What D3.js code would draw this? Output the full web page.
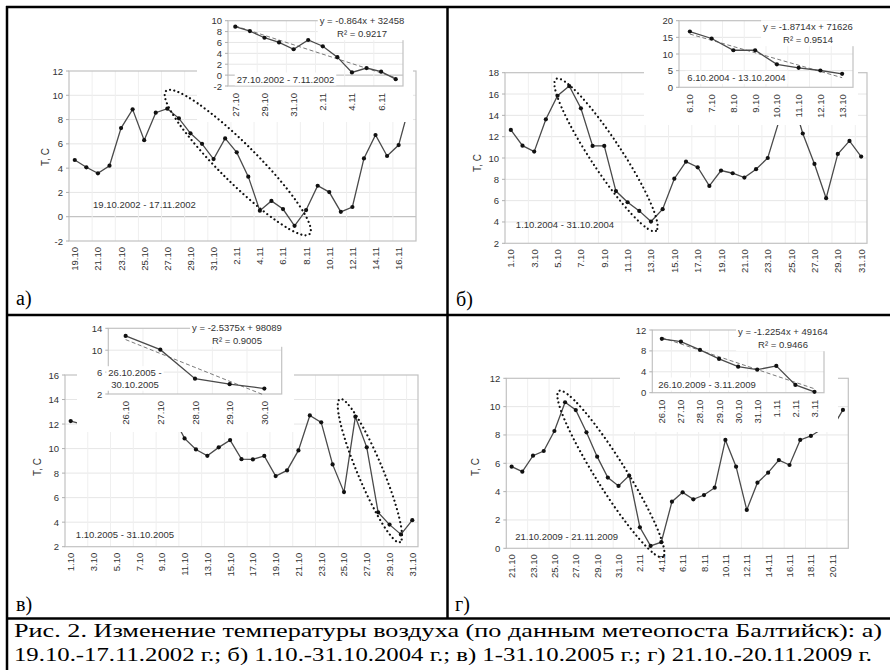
<!DOCTYPE html>
<html><head><meta charset="utf-8">
<script src="https://cdn.jsdelivr.net/npm/d3@7"></script>
<style>
body{margin:0;background:#fff}
svg{display:block}
.ax text,.lbl{font-family:"Liberation Sans",Arial,sans-serif;fill:#333}
.serif{font-family:"Times New Roman","Liberation Serif",Tinos,serif;fill:#000}
</style>
</head><body>
<svg id="fig" width="890" height="670"></svg>
<script>
// ---- categories (days) ----
const daysA = ["19.10","20.10","21.10","22.10","23.10","24.10","25.10","26.10","27.10","28.10","29.10","30.10","31.10",
  "1.11","2.11","3.11","4.11","5.11","6.11","7.11","8.11","9.11","10.11","11.11","12.11","13.11","14.11","15.11","16.11","17.11"];
const daysB = ["1.10","2.10","3.10","4.10","5.10","6.10","7.10","8.10","9.10","10.10","11.10","12.10","13.10","14.10","15.10",
  "16.10","17.10","18.10","19.10","20.10","21.10","22.10","23.10","24.10","25.10","26.10","27.10","28.10","29.10","30.10","31.10"];
const daysC = daysB.slice();
const daysD = ["21.10","22.10","23.10","24.10","25.10","26.10","27.10","28.10","29.10","30.10","31.10",
  "1.11","2.11","3.11","4.11","5.11","6.11","7.11","8.11","9.11","10.11","11.11","12.11","13.11","14.11","15.11",
  "16.11","17.11","18.11","19.11","20.11","21.11"];

// ---- daily mean air temperature, °C ----
const tempA = [4.67,4.07,3.57,4.2,7.3,8.84,6.3,8.57,8.9,8.1,6.87,6.0,4.75,6.45,5.3,3.3,0.5,1.3,0.63,-0.75,
  0.55,2.55,2.03,0.4,0.8,4.8,6.73,5.0,5.9,9.4];
const tempB = [12.63,11.16,10.6,13.63,15.84,16.75,14.66,11.13,11.13,6.9,5.85,5.04,4.04,5.2,8.06,9.66,9.13,7.38,
  8.82,8.57,8.16,8.95,10.0,13.6,16.0,12.3,9.44,6.23,10.38,11.6,10.13];
const tempC = [12.24,12.0,null,null,null,null,null,null,null,12.6,10.83,9.93,9.41,10.1,10.69,9.14,9.12,9.4,
  7.76,8.22,9.85,12.7,12.14,8.71,6.45,12.6,10.1,4.8,3.8,3.0,4.16];
const tempD = [5.76,5.41,6.54,6.87,8.28,10.31,9.76,8.19,6.47,4.99,4.4,5.13,1.48,0.17,0.43,3.29,3.95,3.46,3.76,
  4.28,7.65,5.76,2.71,4.63,5.34,6.23,5.88,7.65,7.93,8.4,8.5,9.77];

// ---- axis ticks ----
const yTicksA = [-2,0,2,4,6,8,10,12],  yTicksAi = [-2,0,2,4,6,8,10];
const yTicksB = [2,4,6,8,10,12,14,16,18], yTicksBi = [0,5,10,15,20];
const yTicksC = [2,4,6,8,10,12,14,16], yTicksCi = [2,6,10,14];
const yTicksD = [0,2,4,6,8,10,12], yTicksDi = [0,4,8,12];

// ---- linear trends of the cooling spells ----
const slopes = [-0.864,-1.8714,-2.5375,-1.2254];
const intercepts = [32458,71626,98089,49164];
const r2 = [0.9217,0.9514,0.9005,0.9466];

const periods = ["19.10.2002 - 17.11.2002","1.10.2004 - 31.10.2004","1.10.2005 - 31.10.2005","21.10.2009 - 21.11.2009"];
const spells = [["27.10.2002 - 7.11.2002"],["6.10.2004 - 13.10.2004"],["26.10.2005 -","30.10.2005"],["26.10.2009 - 3.11.2009"]];

const captionLines = [
  "Рис. 2. Изменение температуры воздуха (по данным метеопоста Балтийск): а)",
  "19.10.-17.11.2002 г.; б) 1.10.-31.10.2004 г.; в) 1-31.10.2005 г.; г) 21.10.-20.11.2009 г."
];

const svg = d3.select("#fig");
svg.append("rect").attr("width",890).attr("height",670).attr("fill","#fff");

const panels = [
  {cats:daysA, vals:tempA, dom:[-2,12], ticks:yTicksA, box:[69,416,71,241], title:[45,157],
   period:[144.5,204], cover:[197,9,413,122], tag:"а)", tagPos:[16,305],
   inset:{from:8,to:19,dom:[-2,10],ticks:yTicksAi,every:2,box:[228,403,20.7,86],eq:[362,20.7],spell:[285.5,79]},
   ell:{a:[7.88,10.35],b:[20.3,-1.43],r:19}},
  {cats:daysB, vals:tempB, dom:[2,18], ticks:yTicksB, box:[505,867,72.7,243.3], title:[477,163],
   period:[565,224], cover:[644,9,858,125], tag:"б)", tagPos:[456,306],
   inset:{from:5,to:12,dom:[0,20],ticks:yTicksBi,every:1,box:[679,853,20.7,87.3],eq:[808,26.7],spell:[736.5,77.3]},
   ell:{a:[3.87,17.41],b:[12.43,3.16],r:15.5}},
  {cats:daysC, vals:tempC, dom:[2,16], ticks:yTicksC, box:[65,418,375,546.7], title:[37,467],
   period:[125,534], cover:[77,317,294,432], tag:"в)", tagPos:[16,611],
   inset:{from:25,to:29,dom:[2,14],ticks:yTicksCi,every:1,box:[108.3,281.7,328.3,394],eq:[237,327.3],spell:[135,372.7]},
   ell:{a:[23.64,14.04],b:[28.91,2.37],r:12.5}},
  {cats:daysD, vals:tempD, dom:[0,12], ticks:yTicksD, box:[506.3,848.3,378.3,548.3], title:[475,467],
   period:[566.7,536], cover:[620,317,838,432], tag:"г)", tagPos:[455,611],
   inset:{from:5,to:13,dom:[0,12],ticks:yTicksDi,every:1,box:[652.3,824,330,392.7],eq:[783,331.7],spell:[707,384]},
   ell:{a:[4.42,11.1],b:[14.15,-0.61],r:15}}
];

// one line chart (main or inset) with a category x axis
function lineChart(g, cats, dom, ticks, box, every, opt) {
  const [x0,x1,y0,y1] = box;
  const x = d3.scalePoint().domain(cats).range([x0,x1]).padding(0.5);
  const y = d3.scaleLinear().domain(dom).range([y1,y0]);
  const step = x.step();
  const ax = g.append("g").attr("class","ax");
  ax.selectAll(".hg").data(ticks.filter(t=>t!==dom[0]&&t!==dom[1])).join("line")
    .attr("x1",x0).attr("x2",x1).attr("y1",d=>y(d)).attr("y2",d=>y(d))
    .attr("stroke",d=>(d===0&&dom[0]<0)?"#b4b4b4":"#e6e6e6").attr("stroke-width",1);
  ax.selectAll(".vg").data(d3.range(every, cats.length, every)).join("line")
    .attr("x1",d=>x0+d*step).attr("x2",d=>x0+d*step).attr("y1",y0).attr("y2",y1)
    .attr("stroke","#efefef").attr("stroke-width",1);
  ax.append("rect").attr("x",x0).attr("y",y0).attr("width",x1-x0).attr("height",y1-y0)
    .attr("fill","none").attr("stroke","#c2c2c2").attr("stroke-width",1.2);
  ax.selectAll(".yt").data(ticks).join("line")
    .attr("x1",x0-3).attr("x2",x0).attr("y1",d=>y(d)).attr("y2",d=>y(d)).attr("stroke","#b0b0b0");
  ax.selectAll(".yl").data(ticks).join("text")
    .attr("x",x0-opt.ygap).attr("y",d=>y(d)).attr("text-anchor","end").attr("dominant-baseline","central")
    .attr("font-size",opt.fs).text(d=>d);
  ax.selectAll(".xl").data(cats.filter((c,i)=>i%every===0)).join("text")
    .attr("transform",d=>`translate(${x(d)},${y1+opt.xgap}) rotate(-90)`)
    .attr("text-anchor","end").attr("dominant-baseline","central")
    .attr("font-size",opt.fs).text(d=>d);
  return {x,y};
}

function drawSeries(g, sc, cats, vals) {
  const pts = cats.map((c,i)=>({c,v:vals[i]}));
  g.append("path").datum(pts)
    .attr("d",d3.line().defined(d=>d.v!==null).x(d=>sc.x(d.c)).y(d=>sc.y(d.v)))
    .attr("fill","none").attr("stroke","#4a4a4a").attr("stroke-width",1.3);
  g.selectAll(null).data(pts.filter(d=>d.v!==null)).join("circle")
    .attr("cx",d=>sc.x(d.c)).attr("cy",d=>sc.y(d.v)).attr("r",2.1).attr("fill","#111");
}

function boxedText(g, lines, cx, cy, fs, lh) {
  const tg = g.append("g");
  const bg = tg.append("rect").attr("fill","#fff");
  lines.forEach((s,k)=>{
    tg.append("text").attr("class","lbl").attr("x",cx).attr("y",cy+k*lh)
      .attr("text-anchor","middle").attr("dominant-baseline","central").attr("font-size",fs).text(s);
  });
  const b = tg.node().getBBox();
  bg.attr("x",b.x-2).attr("y",b.y-1).attr("width",b.width+4).attr("height",b.height+2);
}

panels.forEach((p,k)=>{
  const g = svg.append("g");
  // main chart
  const sc = lineChart(g, p.cats, p.dom, p.ticks, p.box, 2, {fs:9.5, ygap:6, xgap:6});
  drawSeries(g, sc, p.cats, p.vals);
  g.append("text").attr("class","lbl").attr("font-size",10)
    .attr("transform",`translate(${p.title[0]},${p.title[1]}) rotate(-90)`)
    .attr("text-anchor","middle").attr("dominant-baseline","central").text("T, C");
  g.append("text").attr("class","lbl").attr("x",p.period[0]).attr("y",p.period[1])
    .attr("text-anchor","middle").attr("dominant-baseline","central").attr("font-size",9.5).text(periods[k]);

  // inset chart area lies over the main one
  const c = p.cover;
  g.append("rect").attr("x",c[0]).attr("y",c[1]).attr("width",c[2]-c[0]).attr("height",c[3]-c[1]).attr("fill","#fff");
  const I = p.inset;
  const ic = p.cats.slice(I.from, I.to+1), iv = p.vals.slice(I.from, I.to+1);
  const isc = lineChart(g, ic, I.dom, I.ticks, I.box, I.every, {fs:9.5, ygap:6, xgap:7});
  // trend line with the stated slope through the spell's mean
  const idx = d3.range(ic.length);
  const mx = d3.mean(idx), my = d3.mean(iv);
  const tv = i => my + slopes[k]*(i-mx);
  g.append("line")
    .attr("x1",isc.x(ic[0])).attr("y1",isc.y(tv(0)))
    .attr("x2",isc.x(ic[ic.length-1])).attr("y2",isc.y(tv(ic.length-1)))
    .attr("stroke","#7a7a7a").attr("stroke-width",1).attr("stroke-dasharray","4,2.5");
  drawSeries(g, isc, ic, iv);
  boxedText(g, [`y = ${slopes[k]}x + ${intercepts[k]}`, `R² = ${r2[k]}`], I.eq[0], I.eq[1], 9.5, 13);
  boxedText(g, spells[k], I.spell[0], I.spell[1], 9.5, 11.5);

  // dotted outline of the cooling spell
  const xi = d3.scaleLinear().domain([0,p.cats.length-1]).range([sc.x(p.cats[0]), sc.x(p.cats[p.cats.length-1])]);
  const ax_ = xi(p.ell.a[0]), ay_ = sc.y(p.ell.a[1]), bx_ = xi(p.ell.b[0]), by_ = sc.y(p.ell.b[1]);
  const cx = (ax_+bx_)/2, cy = (ay_+by_)/2;
  const rx = Math.hypot(bx_-ax_, by_-ay_)/2;
  const ang = Math.atan2(by_-ay_, bx_-ax_)*180/Math.PI;
  g.append("ellipse").attr("cx",0).attr("cy",0).attr("rx",rx).attr("ry",p.ell.r)
    .attr("transform",`translate(${cx},${cy}) rotate(${ang})`)
    .attr("fill","none").attr("stroke","#111").attr("stroke-width",2.2)
    .attr("stroke-linecap","round").attr("stroke-dasharray","0.01,4.4");

  svg.append("text").attr("class","serif").attr("x",p.tagPos[0]).attr("y",p.tagPos[1])
    .attr("font-size",20).text(p.tag);
});

// frame
const frame = [[6,7,890,7],[7,6,7,670],[447.5,6,447.5,618],[6,315,890,315],[6,618.5,890,618.5]];
svg.selectAll(".fr").data(frame).join("line")
  .attr("x1",d=>d[0]).attr("y1",d=>d[1]).attr("x2",d=>d[2]).attr("y2",d=>d[3])
  .attr("stroke","#000").attr("stroke-width",2.5);

// caption
const capW = [868,858], capY = [637,661];
captionLines.forEach((s,i)=>{
  svg.append("text").attr("class","serif").attr("x",14).attr("y",capY[i])
    .attr("font-size",19)
    .attr("textLength",capW[i]).attr("lengthAdjust","spacingAndGlyphs").text(s);
});
</script>
</body></html>
